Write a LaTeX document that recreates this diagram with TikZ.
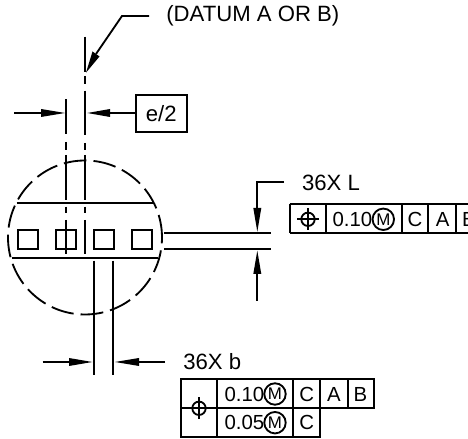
\documentclass[tikz,border=0pt]{standalone}
\usepackage{fontspec}
\setmainfont{Liberation Sans}
\usepackage{tikz}
\usetikzlibrary{positioning}

\tikzset{
  part/.style={black,line width=1.25pt},
  thin part/.style={black,line width=1.05pt},
  label/.style={inner sep=0pt,font=\fontsize{12.6}{14}\selectfont},
  frametext/.style={inner sep=0pt,font=\fontsize{11.6}{14}\selectfont},
  mod/.style={draw=black,circle,line width=1.05pt,inner sep=0pt,minimum size=12.2pt,font=\fontsize{9.6}{11}\selectfont}
}

\begin{document}
\begin{tikzpicture}[scale=0.02]
\clip (0,0) rectangle (468,-439);
\fill [white] (0,0) rectangle (468,-439);
% datum leader
\draw (166,-16) node [label,anchor=west] (datum) {(DATUM A OR B)};
\draw [thin part] (149,-16) -- (122,-16) -- (96,-54);
\fill [black] (86,-72.7) -- (92.5,-51.5) -- (99.5,-56.5);
% center lines
\draw [thin part] (85,-36.7) -- (85,-71.7) (85,-76) -- (85,-84) (85,-90.7) -- (85,-135) (85,-143) -- (85,-150) (85,-155) -- (85,-200) (85,-206.7) -- (85,-213) (85,-220) -- (85,-254);
\draw [thin part] (66,-99.3) -- (66,-134) (66,-142) -- (66,-150) (66,-155) -- (66,-200) (66,-206.7) -- (66,-213) (66,-220) -- (66,-254);
% e/2
\draw [thin part] (14.3,-113) -- (45,-113);
\fill [black] (65,-113) -- (41,-109) -- (41,-117);
\draw [thin part] (136,-113) -- (105,-113);
\fill [black] (87.3,-113) -- (110,-109) -- (110,-117);
\draw [thin part] (136,-94.7) rectangle (186.7,-132);
\draw (161.3,-113.5) node [label] (pitch) {e/2};
% detail circle
\draw [thin part,dash pattern=on 13pt off 4pt] (85,-237.5) circle (77);
\draw [part] (16.7,-203) -- (153.3,-203);
\draw [part] (11.7,-258.3) -- (157.7,-258.3);
\draw [part] (18.3,-229.7) rectangle (37.7,-249);
\draw [part] (56,-229.7) rectangle (75.7,-249);
\draw [part] (94,-229.7) rectangle (113.7,-249);
\draw [part] (132.3,-229.7) rectangle (152,-249);
% lead length
\draw [part] (164,-233) -- (270.7,-233);
\draw [part] (164,-248.7) -- (270.7,-248.7);
\draw [thin part] (284,-182.3) -- (257.3,-182.3) -- (257.3,-212);
\fill [black] (257.3,-231.7) -- (253.3,-208) -- (261.3,-208);
\draw [thin part] (257.3,-300.7) -- (257.3,-270);
\fill [black] (257.3,-250.7) -- (253.3,-274) -- (261.3,-274);
\draw (301.7,-182.7) node [label,anchor=west] (leadlen) {36X L};
% lead width
\draw [thin part] (94.3,-260.7) -- (94.3,-375);
\draw [thin part] (113.3,-260.7) -- (113.3,-375);
\draw [thin part] (42.7,-362) -- (73,-362);
\fill [black] (92.3,-362) -- (69,-358) -- (69,-366);
\draw [thin part] (165,-362) -- (135,-362);
\fill [black] (115,-362) -- (139,-358) -- (139,-366);
\draw (183,-362) node [label,anchor=west] (leadwid) {36X b};
% frame for L
\draw [part] (289.7,-204.3) -- (468,-204.3) (289.7,-233.3) -- (468,-233.3) (289.7,-204.3) -- (289.7,-233.3);
\draw [thin part] (325.7,-204.3) -- (325.7,-233.3) (401.7,-204.3) -- (401.7,-233.3) (428.3,-204.3) -- (428.3,-233.3) (456.3,-204.3) -- (456.3,-233.3);
\draw [thin part] (308,-219.3) circle (6.7);
\draw [thin part] (297,-219.3) -- (319,-219.3) (308,-208.3) -- (308,-230.3);
\draw (332.3,-219.3) node [frametext,anchor=west] (tolL) {0.10};
\draw (383.3,-219.3) node [mod] (modL) {M};
\draw (415,-219.3) node [frametext] (refLc) {C};
\draw (442.7,-219.3) node [frametext] (refLa) {A};
\draw (469,-219.3) node [frametext] (refLb) {B};
% frame for b
\draw [part] (181,-379.3) rectangle (374,-408.3);
\draw [part] (181,-408.3) rectangle (320,-437);
\draw [thin part] (217.3,-379.3) -- (217.3,-437) (293,-379.3) -- (293,-437) (320,-379.3) -- (320,-408.3) (347.7,-379.3) -- (347.7,-408.3);
\draw [thin part] (199,-408.3) circle (6.7);
\draw [thin part] (188,-408.3) -- (210,-408.3) (199,-397.3) -- (199,-419.3);
\draw (224.3,-394) node [frametext,anchor=west] (tolb) {0.10};
\draw (275,-394) node [mod] (modb) {M};
\draw (306.7,-394) node [frametext] (refbc) {C};
\draw (334,-394) node [frametext] (refba) {A};
\draw (360.5,-394) node [frametext] (refbb) {B};
\draw (224.3,-422.7) node [frametext,anchor=west] (tolc) {0.05};
\draw (275,-422.7) node [mod] (modc) {M};
\draw (306.7,-422.7) node [frametext] (refcc) {C};
\end{tikzpicture}
\end{document}
